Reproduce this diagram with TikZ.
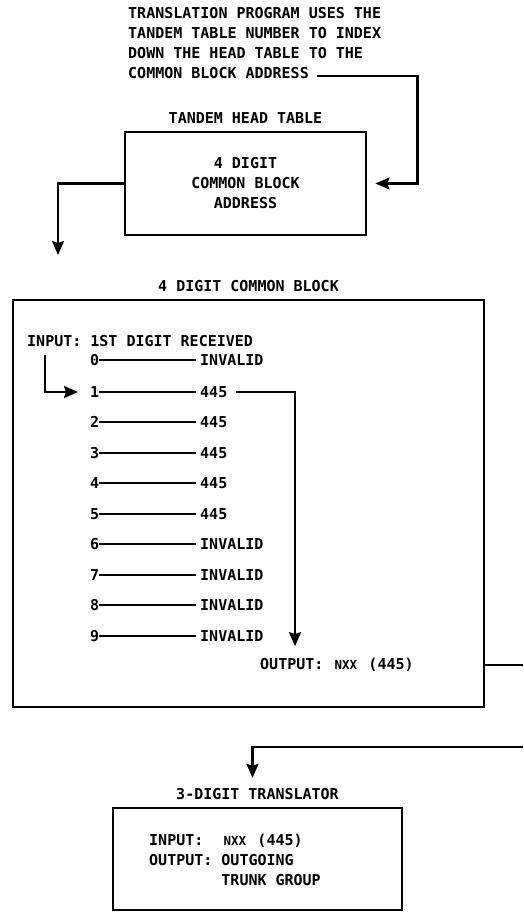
\documentclass[tikz,border=0pt]{standalone}
\usepackage{fontspec}
\setmainfont{DejaVu Sans Mono}
\usetikzlibrary{positioning,arrows.meta}

\newcommand{\smallcode}{\makebox[27pt][c]{\fontsize{12.5}{20}\selectfont NXX}}

\begin{document}
\begin{tikzpicture}[
    x=1pt, y=-1pt,
    >={Stealth[length=14pt,width=12pt,inset=2pt]},
    every node/.style={font=\fontsize{15}{20}\selectfont\bfseries, inner sep=0pt},
    boxframe/.style={draw, line width=2.8pt},
    wire/.style={line width=2.2pt}
]
\fill[white] (0,0) rectangle (523,913);
\useasboundingbox (0,0) rectangle (523,913);

% Note at the top
\node[anchor=north west, align=left] (note) at (128,7.5)
    {TRANSLATION PROGRAM USES THE\\TANDEM TABLE NUMBER TO INDEX\\DOWN THE HEAD TABLE TO THE\\COMMON BLOCK ADDRESS};

% Tandem head table
\node[boxframe, minimum width=241pt, minimum height=103pt, align=center] (head) at (245.5,183.5)
    {4 DIGIT\\COMMON BLOCK\\ADDRESS};
\node[above=7pt of head] (headtitle) {TANDEM HEAD TABLE};

\draw[wire,->] ([xshift=189pt,yshift=3pt]note.south west) -| ([xshift=50pt]head.east) -- ([xshift=8pt]head.east);

% Common block
\node[boxframe, minimum width=471pt, minimum height=407pt] (block) at (248.5,503.5) {};
\node[above=7pt of block] (blocktitle) {4 DIGIT COMMON BLOCK};

\coordinate (drop) at (58,255);
\draw[wire,->] (head.west) -| (drop);

\node[anchor=west] (inp) at (27,341) {INPUT: 1ST DIGIT RECEIVED};

% Digit rows
\foreach \d/\val/\y in {0/INVALID/360, 1/445/392, 2/445/422, 3/445/453, 4/445/483,
                        5/445/514, 6/INVALID/544, 7/INVALID/575, 8/INVALID/605, 9/INVALID/636} {
    \node[anchor=west] (d\d) at (90,\y) {\d};
    \node[anchor=west] (v\d) at (200,\y) {\val};
    \draw[wire, shorten >=4pt] (d\d) -- (v\d);
}

\draw[wire,->,shorten >=12pt] ([xshift=18pt,yshift=-8pt]inp.south west) |- (d1);

\node[anchor=west] (out) at (260,665) {OUTPUT: \smallcode{} (445)};
\draw[wire,->] ([xshift=9pt]v1.east) -| ([xshift=35pt,yshift=12pt]out.north west);

% Link to the 3-digit translator
\coordinate (exitA) at (523,665);
\coordinate (exitB) at (523,747);
\draw[wire] (block.east |- out) -- (exitA);

% 3-digit translator
\node[boxframe, minimum width=289pt, minimum height=102pt] (trans) at (257.5,859) {};
\node[above=7pt of trans] (trtitle) {3-DIGIT TRANSLATOR};
\draw[wire,->] (exitB) -| ([xshift=-5pt,yshift=10pt]trtitle.north);

\node[anchor=west] (trtext) at (149,861.5) {\begin{tabular}{@{}l@{\ }l@{}}
    INPUT:  & \smallcode{} (445)\\
    OUTPUT: & OUTGOING\\
            & TRUNK GROUP
\end{tabular}};

\end{tikzpicture}
\end{document}
